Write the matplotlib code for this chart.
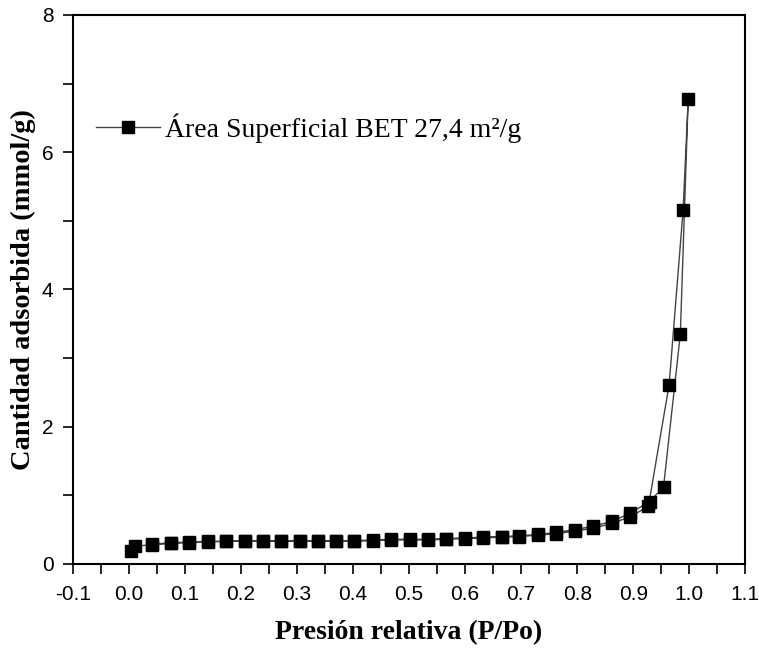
import numpy as np
import matplotlib.pyplot as plt
from matplotlib.ticker import MultipleLocator

# adsorption branch
p_ads = [0.003, 0.011, 0.042, 0.076, 0.108, 0.141, 0.173, 0.207, 0.239, 0.272,
         0.305, 0.337, 0.369, 0.401, 0.435, 0.467, 0.501, 0.534, 0.566, 0.599,
         0.631, 0.665, 0.696, 0.730, 0.762, 0.796, 0.828, 0.862, 0.895, 0.927,
         0.964, 0.989, 0.998]
q_ads = [0.19, 0.26, 0.28, 0.30, 0.31, 0.32, 0.33, 0.33, 0.33, 0.33,
         0.33, 0.33, 0.33, 0.33, 0.34, 0.35, 0.35, 0.35, 0.36, 0.37,
         0.38, 0.39, 0.40, 0.42, 0.44, 0.48, 0.52, 0.59, 0.69, 0.84,
         2.61, 5.16, 6.77]
# desorption branch
p_des = [0.984, 0.954, 0.929, 0.895, 0.862, 0.828, 0.796, 0.762, 0.730, 0.696,
         0.665, 0.631, 0.599, 0.566, 0.534, 0.501, 0.467, 0.435, 0.401, 0.369,
         0.337, 0.305, 0.272, 0.239, 0.207, 0.173, 0.141, 0.108, 0.076, 0.042]
q_des = [3.35, 1.12, 0.91, 0.74, 0.62, 0.55, 0.50, 0.46, 0.43, 0.41,
         0.40, 0.39, 0.38, 0.37, 0.36, 0.36, 0.36, 0.35, 0.34, 0.34,
         0.34, 0.34, 0.34, 0.34, 0.34, 0.33, 0.33, 0.32, 0.31, 0.29]

label = 'Área Superficial BET 27,4 m²/g'

x = np.array(p_ads + p_des)
y = np.array(q_ads + q_des)

fig = plt.figure(figsize=(7.59, 6.49), dpi=100)
ax = fig.add_axes([0.096, 0.131, 0.886, 0.846])

ax.plot(x, y, color='#444444', lw=1.0, marker='s', ms=9,
        mfc='black', mec='black', label=label)

ax.set_xlim(-0.1, 1.1)
ax.set_ylim(0, 8)
ticks = np.arange(-0.1, 1.15, 0.1)
ax.set_xticks(ticks)
ax.set_xticklabels(['%.1f' % t for t in ticks])
ax.xaxis.set_minor_locator(MultipleLocator(0.05))
ax.yaxis.set_major_locator(MultipleLocator(2))
ax.yaxis.set_minor_locator(MultipleLocator(1))

ax.tick_params(which='both', direction='out', length=7, width=1.2,
               labelsize=15, top=False, right=False)
ax.tick_params(axis='x', pad=8)
ax.tick_params(axis='y', pad=7)
for lab in ax.get_xticklabels() + ax.get_yticklabels():
    lab.set_family('Liberation Sans')
for s in ax.spines.values():
    s.set_linewidth(1.5)

ax.set_xlabel('Presión relativa (P/Po)', family='Liberation Serif',
              fontweight='bold', fontsize=20, labelpad=12)
ax.set_ylabel('Cantidad adsorbida (mmol/g)', family='Liberation Serif',
              fontweight='bold', fontsize=20.5, labelpad=4)

ax.legend(loc='center left', bbox_to_anchor=(0.034, 0.794), frameon=False,
          prop={'family': 'Liberation Serif', 'size': 20},
          borderpad=0, borderaxespad=0,
          handlelength=2.3, handletextpad=0.2)

fig.savefig('out.png', dpi=100)
